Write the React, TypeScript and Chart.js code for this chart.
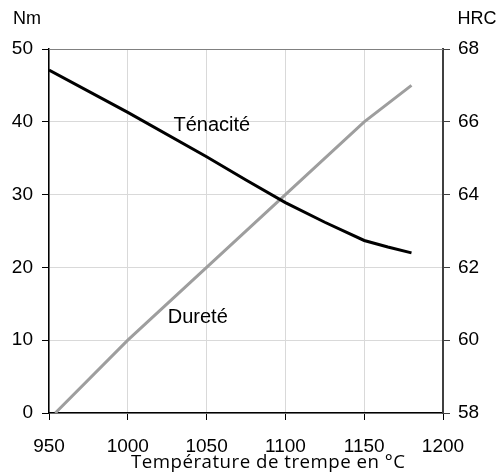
import React, { useEffect, useRef } from "react";
import { Chart, registerables } from "chart.js";

Chart.register(...registerables);

const xTicks = [950, 1000, 1050, 1100, 1150, 1200];
const tenaciteX = [950, 1000, 1050, 1075, 1100, 1125, 1150, 1165, 1180];
const tenaciteY = [47.1, 41.3, 35.2, 32.0, 28.9, 26.2, 23.7, 22.8, 22.0];
const dureteX = [954, 1000, 1050, 1100, 1150, 1180];
const dureteY = [58, 60, 62, 64, 66, 67];
const leftUnit = "Nm";
const rightUnit = "HRC";
const xTitle = "Température de trempe en °C";
const labelTenacite = { text: "Ténacité", x: 1053.3, y: 38.7 };
const labelDurete = { text: "Dureté", x: 1044.4, y: 12.4 };

const FONT = "'Liberation Sans', Arial, sans-serif";

export default function App() {
  const ref = useRef<HTMLCanvasElement | null>(null);
  useEffect(() => {
    document.body.style.margin = "0";
    const ctx = ref.current!.getContext("2d")!;
    const overlay = {
      id: "overlay",
      afterDraw(chart: any) {
        const c = chart.ctx;
        const a = chart.chartArea;
        const xs = chart.scales.x;
        const ys = chart.scales.y;
        c.save();
        // top border
        c.strokeStyle = "#808080";
        c.lineWidth = 1;
        c.beginPath();
        c.moveTo(a.left, a.top + 0.5);
        c.lineTo(a.right, a.top + 0.5);
        c.stroke();
        // units
        c.fillStyle = "#000";
        c.font = `18px ${FONT}`;
        c.textBaseline = "middle";
        c.textAlign = "center";
        c.fillText(leftUnit, 27, 19);
        c.fillText(rightUnit, 477, 19);
        // line labels
        c.font = `20px ${FONT}`;
        c.textBaseline = "alphabetic";
        c.fillText(labelTenacite.text, xs.getPixelForValue(labelTenacite.x), ys.getPixelForValue(labelTenacite.y));
        c.fillText(labelDurete.text, xs.getPixelForValue(labelDurete.x), ys.getPixelForValue(labelDurete.y));
        // x title
        const sp = 0.5;
        (c as any).letterSpacing = `${sp}px`;
        c.font = `16px 'Open Sans', sans-serif`;
        const w = c.measureText(xTitle).width;
        const size = Math.min(19, (16 * 277) / w);
        c.font = `${size.toFixed(2)}px 'Open Sans', sans-serif`;
        c.textBaseline = "middle";
        c.fillText(xTitle, 268 + sp / 2, 463);
        c.restore();
      },
    };
    const chart = new Chart(ctx, {
      type: "line",
      data: {
        datasets: [
          {
            label: "Ténacité",
            data: tenaciteX.map((x, i) => ({ x, y: tenaciteY[i] })),
            borderColor: "#000000",
            borderWidth: 3,
            pointRadius: 0,
            tension: 0,
            yAxisID: "y",
          },
          {
            label: "Dureté",
            data: dureteX.map((x, i) => ({ x, y: dureteY[i] })),
            borderColor: "#9e9e9e",
            borderWidth: 3,
            pointRadius: 0,
            tension: 0,
            yAxisID: "y1",
          },
        ],
      },
      options: {
        animation: false,
        responsive: false,
        events: [],
        layout: { padding: { top: 49, left: 0, right: 0, bottom: 0 } },
        plugins: { legend: { display: false }, tooltip: { enabled: false } },
        scales: {
          x: {
            type: "linear",
            min: 950,
            max: 1200,
            afterBuildTicks: (s: any) => {
              s.ticks = xTicks.map((v) => ({ value: v }));
            },
            afterFit: (s: any) => {
              s.height = 59;
            },
            grid: { color: "#d9d9d9", tickColor: "#000", tickLength: 7, lineWidth: 1 },
            border: { color: "#000", width: 1.5 },
            ticks: {
              color: "#000",
              font: { family: FONT, size: 19 },
              padding: 15,
              maxRotation: 0,
              callback: (v: any) => String(v),
            },
          },
          y: {
            position: "left",
            min: 0,
            max: 50,
            ticks: { stepSize: 10, color: "#000", font: { family: FONT, size: 19 }, padding: 9 },
            afterFit: (s: any) => {
              s.width = 49;
            },
            grid: { color: "#d9d9d9", tickColor: "#000", tickLength: 7 },
            border: { color: "#000", width: 1.5 },
          },
          y1: {
            position: "right",
            min: 58,
            max: 68,
            ticks: { stepSize: 2, color: "#000", font: { family: FONT, size: 19 }, padding: 8 },
            afterFit: (s: any) => {
              s.width = 56;
            },
            grid: { drawOnChartArea: false, tickColor: "#404040", tickLength: 7 },
            border: { color: "#404040", width: 2 },
          },
        },
      },
      plugins: [overlay],
    });
    return () => chart.destroy();
  }, []);
  return (
    <div style={{ position: "relative", width: 499, height: 472 }}>
      <canvas ref={ref} width={499} height={472} style={{ width: 499, height: 472, display: "block" }} />
    </div>
  );
}
